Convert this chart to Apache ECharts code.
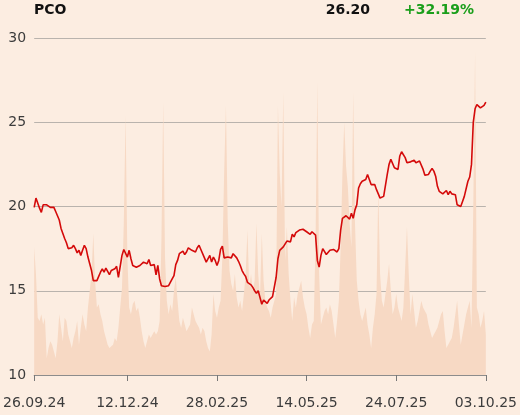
<!DOCTYPE html>
<html>
<head>
<meta charset="utf-8">
<script src="https://cdn.jsdelivr.net/npm/echarts@6/dist/echarts.min.js"></script>
<style>
html,body{margin:0;padding:0;background:#fcede1;}
#c{width:520px;height:415px;}
</style>
</head>
<body>
<div id="c"></div>
<script>
// ---- data ----
const ticker = 'PCO';
const lastPrice = '26.20';
const changePct = '+32.19%';
const startDate = '2024-09-26';
const endDate = '2025-10-03';
const holidays = ['2024-11-01','2024-11-11','2024-12-24','2024-12-25','2024-12-26','2024-12-31','2025-01-01','2025-01-06','2025-04-18','2025-04-21','2025-05-01','2025-06-19','2025-08-15'];
const tickLabels = ['26.09.24','12.12.24','28.02.25','14.05.25','24.07.25','03.10.25'];
const tickIndex = [0, 52, 102, 152, 202, 252];
const yTicks = [10, 15, 20, 25, 30];

const price = [
19.95,20.5,20.45,19.9,19.65,20.1,20.15,20.1,20.0,19.95,
19.9,19.95,19.7,19.45,19.2,18.7,18.4,18.1,17.85,17.5,
17.5,17.55,17.7,17.5,17.25,17.4,17.1,17.4,17.7,17.5,
17.0,16.6,16.2,15.6,15.55,15.6,15.85,16.1,16.3,16.1,
16.35,16.15,15.95,16.2,16.2,16.3,16.45,15.8,15.85,17.1,
17.45,17.55,17.0,17.4,16.9,16.5,16.4,16.4,16.45,16.5,
16.55,16.7,16.8,16.6,16.85,16.5,16.4,16.55,15.95,16.5,
15.7,15.3,15.3,15.25,15.2,15.3,15.4,15.7,15.9,16.55,
16.8,17.2,17.1,17.35,17.15,17.3,17.55,17.45,17.4,17.35,
17.3,17.55,17.7,17.45,17.35,16.95,16.7,16.6,17.1,16.7,
17.0,16.8,16.5,16.8,17.45,17.65,16.95,17.0,17.0,17.05,
16.95,17.2,17.1,16.95,16.75,16.5,16.2,16.0,15.85,15.5,
15.4,15.35,15.2,15.0,14.85,15.0,14.6,14.2,14.45,14.55,
14.25,14.45,14.5,14.65,14.75,15.8,16.9,17.4,17.5,17.6,
17.65,17.95,18.0,17.9,18.35,18.2,18.45,18.5,18.6,18.5,
18.65,18.7,18.5,18.4,18.35,18.5,18.6,18.3,16.8,16.4,
17.1,17.5,17.6,17.15,17.2,17.4,17.5,17.45,17.35,17.3,
17.5,18.6,19.3,19.35,19.45,19.5,19.25,19.6,19.3,19.8,
20.1,21.1,21.35,21.5,21.55,21.6,21.9,21.6,21.3,21.2,
21.3,21.0,20.75,20.5,20.4,20.6,20.55,21.9,22.5,22.8,
22.9,22.3,22.4,22.2,23.0,23.25,23.3,22.9,22.6,22.55,
22.65,22.6,22.75,22.6,22.55,22.7,22.6,22.2,21.85,21.8,
21.9,22.1,22.25,22.1,21.8,21.2,20.9,20.8,20.75,20.7,
20.95,20.7,20.9,20.75,20.65,20.7,20.1,20.15,20.0,20.3,
20.6,20.5,21.5,21.75,22.5,25.0,25.8,26.05,26.0,25.85,
25.8,26.0,26.2
];

const volume = [
38,30,17,16,18,15,17,5,8,10,
9,7,5,10,18,14,10,17,16,12,
10,8,11,13,16,9,14,18,15,13,
20,25,30,42,28,20,21,18,16,13,
11,9,8,8,9,11,10,14,20,26,
45,77,35,20,18,21,22,19,20,17,
13,10,8,10,12,11,12,13,12,13,
16,40,81,35,22,18,21,19,25,29,
22,16,14,17,15,13,14,15,20,18,
16,15,14,12,14,13,10,8,7,12,
24,19,17,20,22,35,60,80,45,31,
27,25,30,23,20,22,19,24,30,43,
26,30,25,28,45,30,23,42,28,22,
20,19,17,20,22,24,80,60,50,84,
34,44,30,22,16,23,20,24,26,28,
23,20,18,14,11,15,16,40,87,30,
15,17,19,20,18,21,19,15,11,16,
22,38,60,75,62,56,45,38,84,45,
28,22,18,16,18,20,15,12,8,14,
18,24,55,30,22,20,24,28,33,25,
18,20,24,20,18,16,20,32,44,30,
18,24,19,14,16,19,22,20,19,18,
15,13,11,12,13,14,16,18,19,13,
8,9,10,11,14,18,22,15,9,12,
15,18,20,22,14,50,96,20,18,14,
16,19,12
];

// ---- trading-day categories ----
function pad(n){return (n<10?'0':'')+n;}
const categories = [];
(function(){
  const d = new Date(startDate+'T12:00:00Z');
  const end = new Date(endDate+'T12:00:00Z');
  while (d <= end) {
    const wd = d.getUTCDay();
    const iso = d.getUTCFullYear()+'-'+pad(d.getUTCMonth()+1)+'-'+pad(d.getUTCDate());
    if (wd !== 0 && wd !== 6 && holidays.indexOf(iso) < 0) {
      categories.push(pad(d.getUTCDate())+'.'+pad(d.getUTCMonth()+1)+'.'+String(d.getUTCFullYear()).slice(2));
    }
    d.setUTCDate(d.getUTCDate()+1);
  }
})();
const cats = categories.slice(0, price.length);
while (cats.length < price.length) cats.push('');
// pin the labelled dates to their index positions
tickIndex.forEach(function(ix, k){ cats[ix] = tickLabels[k]; });

const showTick = function(idx){ return tickIndex.indexOf(idx) >= 0; };

const chart = echarts.init(document.getElementById('c'), null, {renderer:'canvas'});
const FONT = 'DejaVu Sans';
chart.setOption({
  backgroundColor: '#fcede1',
  animation: false,
  textStyle: {fontFamily: FONT},
  grid: {left: 34, right: 34, top: 38, bottom: 40, containLabel: false},
  graphic: [
    {type:'text', left: 34, top: 3, style:{text: ticker, fontFamily: FONT, fontWeight:'bold', fontSize:14, fill:'#111'}},
    {type:'text', right: 150, top: 3, style:{text: lastPrice, fontFamily: FONT, fontWeight:'bold', fontSize:14, fill:'#111', textAlign:'right'}},
    {type:'text', right: 46, top: 3, style:{text: changePct, fontFamily: FONT, fontWeight:'bold', fontSize:14, fill:'#1a9e1a', textAlign:'right'}}
  ],
  xAxis: {
    type: 'category',
    data: cats,
    boundaryGap: false,
    axisLine: {show: true, lineStyle: {color: '#8c8c8c', width: 1}},
    axisTick: {show: true, length: 6, interval: showTick, lineStyle: {color: '#777'}},
    axisLabel: {interval: showTick, margin: 21, color: '#3c3c3c', fontSize: 14, fontFamily: FONT, showMinLabel: true, showMaxLabel: true, hideOverlap: false},
    splitLine: {show: false}
  },
  yAxis: [
    {
      type: 'value', min: yTicks[0], max: yTicks[yTicks.length-1], interval: 5,
      axisLine: {show: false}, axisTick: {show: false},
      axisLabel: {margin: 8, color: '#3c3c3c', fontSize: 14, fontFamily: FONT},
      splitLine: {show: true, lineStyle: {color: '#b9b3ad', width: 1}}
    },
    {
      type: 'value', min: 0, max: 100, show: false,
      axisLine: {show: false}, axisLabel: {show: false}, splitLine: {show: false}
    }
  ],
  series: [
    {
      name: 'volume', type: 'line', yAxisIndex: 1, data: volume,
      showSymbol: false, symbol: 'none', silent: true,
      lineStyle: {width: 0, color: '#f7d9c4'},
      areaStyle: {color: '#f7d9c4', opacity: 1},
      z: 1
    },
    {
      name: 'price', type: 'line', yAxisIndex: 0, data: price,
      showSymbol: false, symbol: 'none',
      lineStyle: {width: 1.6, color: '#d40a0a'},
      z: 3
    }
  ]
});
</script>
</body>
</html>
